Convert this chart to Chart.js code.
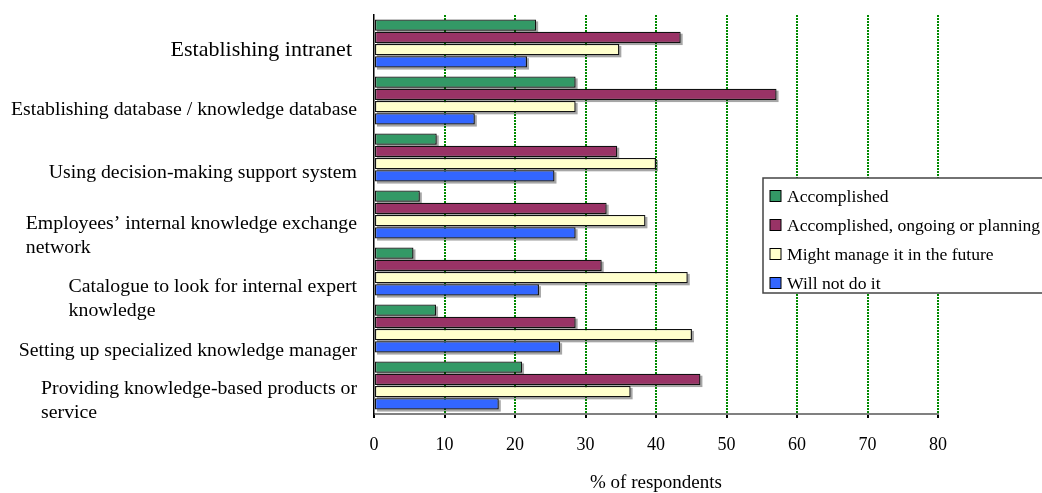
<!DOCTYPE html>
<html>
<head>
<meta charset="UTF-8">
<title>Knowledge management activities</title>
<script src="https://cdn.jsdelivr.net/npm/chart.js"></script>
<style>
  html, body { margin: 0; padding: 0; background: #fff; }
  #wrap { width: 1042px; height: 493px; position: relative; }
</style>
</head>
<body>
<div id="wrap"><canvas id="chart"></canvas></div>
<script>
// categories (each one is a list of label lines)
const categories = [
  ['Establishing intranet'],
  ['Establishing database / knowledge database'],
  ['Using decision-making support system'],
  ['Employees\u2019 internal knowledge exchange', 'network'],
  ['Catalogue to look for internal expert', 'knowledge'],
  ['Setting up specialized knowledge manager'],
  ['Providing knowledge-based products or', 'service']
];

const seriesNames = [
  'Accomplished',
  'Accomplished, ongoing or planning',
  'Might manage it in the future',
  'Will not do it'
];

// % of respondents
const accomplished = [23.0, 28.6, 8.9, 6.5, 5.6, 8.8, 21.0];
const ongoing      = [43.5, 57.1, 34.5, 33.0, 32.3, 28.6, 46.3];
const mightManage  = [34.8, 28.6, 40.0, 38.5, 44.5, 45.1, 36.4];
const willNot      = [21.7, 14.3, 25.6, 28.6, 23.4, 26.4, 17.7];

const xTicks = [0, 10, 20, 30, 40, 50, 60, 70, 80];

const colors = ['#339966', '#993366', '#ffffcc', '#3366ff'];
const serif = '"Liberation Serif", "Times New Roman", serif';

// labels sit a bit lower than the group centre in the original
const labelShift = [7, 9.5, 15.5, 21.5, 27.5, 22.5, 15.5];

const barShadow = {
  id: 'barShadow',
  beforeDatasetsDraw(chart) {
    const ctx = chart.ctx;
    ctx.save();
    ctx.fillStyle = 'rgba(0,0,0,0.35)';
    chart.data.datasets.forEach((ds, i) => {
      chart.getDatasetMeta(i).data.forEach(bar => {
        const p = bar.getProps(['x', 'y', 'base', 'height'], true);
        ctx.fillRect(Math.min(p.x, p.base) + 2, p.y - p.height / 2 + 2, Math.abs(p.x - p.base), p.height);
      });
    });
    ctx.restore();
  }
};

const categoryLabels = {
  id: 'categoryLabels',
  afterDraw(chart) {
    const ctx = chart.ctx;
    const y = chart.scales.y;
    const right = chart.chartArea.left - 17;
    ctx.save();
    ctx.fillStyle = '#000';
    ctx.textBaseline = 'middle';
    ctx.textAlign = 'left';
    categories.forEach((lines, i) => {
      const size = i === 0 ? 22 : 19.8;
      ctx.font = size + 'px ' + serif;
      const w = Math.max(...lines.map(l => ctx.measureText(l).width));
      const mid = y.getPixelForValue(i) + labelShift[i];
      const r = i === 0 ? right - 5 : right;
      lines.forEach((l, k) => {
        ctx.fillText(l, r - w, mid + (k - (lines.length - 1) / 2) * 24);
      });
    });
    ctx.restore();
  }
};

const boxLegend = {
  id: 'boxLegend',
  afterDraw(chart) {
    const ctx = chart.ctx;
    const bx = 763, by = 178, bw = 300, bh = 115;
    ctx.save();
    ctx.fillStyle = '#fff';
    ctx.fillRect(bx, by, bw, bh);
    ctx.strokeStyle = '#444';
    ctx.lineWidth = 1.5;
    ctx.strokeRect(bx, by, bw, bh);
    ctx.font = '17.6px ' + serif;
    ctx.textBaseline = 'middle';
    chart.data.datasets.forEach((ds, i) => {
      const cy = by + 18.5 + i * 29;
      ctx.fillStyle = ds.backgroundColor;
      ctx.fillRect(bx + 7, cy - 6, 11, 11);
      ctx.strokeStyle = '#000';
      ctx.lineWidth = 1;
      ctx.strokeRect(bx + 7, cy - 6, 11, 11);
      ctx.fillStyle = '#000';
      ctx.fillText(ds.label, bx + 24, cy + 1);
    });
    ctx.restore();
  }
};

const seriesData = [accomplished, ongoing, mightManage, willNot];

new Chart(document.getElementById('chart'), {
  type: 'bar',
  data: {
    labels: categories.map(c => c.join(' ')),
    datasets: seriesNames.map((name, i) => ({
      label: name,
      data: seriesData[i],
      backgroundColor: colors[i],
      borderColor: '#111',
      borderWidth: 1.3,
      borderSkipped: false,
      categoryPercentage: 0.86,
      barPercentage: 0.93
    }))
  },
  options: {
    indexAxis: 'y',
    responsive: true,
    maintainAspectRatio: false,
    animation: false,
    layout: { padding: { left: 374, right: 104, top: 15, bottom: 0 } },
    plugins: {
      legend: { display: false },
      tooltip: { enabled: false }
    },
    scales: {
      x: {
        min: 0,
        max: 80,
        afterBuildTicks: axis => { axis.ticks = xTicks.map(v => ({ value: v })); },
        afterFit: axis => { axis.height = 79; },
        grid: {
          color: ctx => ctx.tick && ctx.tick.value === 0 ? 'rgba(0,0,0,0)' : '#008a00',
          lineWidth: 2,
          tickColor: '#000',
          tickLength: 4,
          tickBorderDash: []
        },
        border: { color: '#808080', width: 2, dash: [2, 1] },
        ticks: {
          color: '#000',
          padding: 18,
          maxRotation: 0,
          font: { family: serif, size: 18, lineHeight: 1 }
        },
        title: {
          display: true,
          text: '% of respondents',
          color: '#000',
          padding: { top: 0, bottom: 0 },
          font: { family: serif, size: 19, lineHeight: 1 }
        }
      },
      y: {
        grid: { display: false, drawTicks: false },
        ticks: { display: false },
        border: { color: '#000', width: 1.5 }
      }
    }
  },
  plugins: [barShadow, categoryLabels, boxLegend]
});
</script>
</body>
</html>
